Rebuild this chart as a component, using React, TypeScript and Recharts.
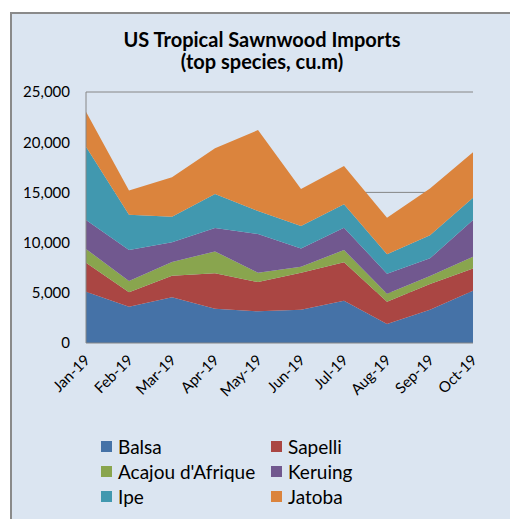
import React from 'react'
import {
  AreaChart,
  Area,
  CartesianGrid,
  XAxis,
  YAxis,
} from 'recharts'

const months = ['Jan-19', 'Feb-19', 'Mar-19', 'Apr-19', 'May-19', 'Jun-19', 'Jul-19', 'Aug-19', 'Sep-19', 'Oct-19']

// monthly volumes per species, cu.m
const balsa   = [5100, 3600, 4550, 3400, 3150, 3300, 4200, 1900, 3300, 5200]
const sapelli = [2900, 1450, 2150, 3550, 2920, 3700, 3850, 2200, 2580, 2230]
const acajou  = [1360, 1130, 1370, 2170, 930, 600, 1210, 800, 790, 1170]
const keruing = [2890, 3080, 1960, 2330, 3860, 1800, 2230, 2000, 1760, 3650]
const ipe     = [7300, 3520, 2550, 3390, 2290, 2250, 2320, 1950, 2290, 2220]
const jatoba  = [3490, 2420, 3920, 4550, 8060, 3690, 3820, 3630, 4680, 4520]

const yTicks = [0, 5000, 10000, 15000, 20000, 25000]
const gridValues = [5000, 15000, 25000]

const series = [
  { key: 'Balsa',            values: balsa,   color: '#4572A7' },
  { key: 'Sapelli',          values: sapelli, color: '#AA4643' },
  { key: "Acajou d'Afrique", values: acajou,  color: '#89A54E' },
  { key: 'Keruing',          values: keruing, color: '#71588F' },
  { key: 'Ipe',              values: ipe,     color: '#4198AF' },
  { key: 'Jatoba',           values: jatoba,  color: '#DB843D' },
]

const data = months.map((month, i) => {
  const row: Record<string, string | number> = { month }
  series.forEach(s => { row[s.key] = s.values[i] })
  return row
})

const FONT = 'Lato, "Open Sans", sans-serif'

const tickStyle = { fill: '#000', fontSize: 15, fontFamily: FONT }

function XTick({ x, y, payload }: any) {
  return (
    <text
      x={x + 5}
      y={y + 10}
      transform={`rotate(-45 ${x + 5} ${y + 10})`}
      textAnchor="end"
      style={tickStyle}
    >
      {payload.value}
    </text>
  )
}

// two-column legend under the plot, filled row by row
function LegendBox() {
  return (
    <div style={{
      position: 'absolute',
      left: 101,
      top: 434,
      display: 'grid',
      gridTemplateColumns: '170px 170px',
      fontFamily: FONT,
      fontSize: 19,
      color: '#000',
    }}>
      {series.map(s => (
        <div key={s.key} style={{ display: 'flex', alignItems: 'center', height: 25 }}>
          <span style={{ width: 11, height: 11, background: s.color, marginRight: 6, display: 'inline-block' }} />
          <span>{s.key}</span>
        </div>
      ))}
    </div>
  )
}

export default function App() {
  return (
    <div style={{ position: 'absolute', left: 0, top: 0, width: 510, height: 519, background: '#fff', overflow: 'hidden' }}>
      <div style={{
        position: 'absolute',
        left: 10,
        top: 12,
        width: 510,
        height: 520,
        background: '#DBE5F1',
        borderLeft: '2px solid #8a8a8a',
        borderTop: '2px solid #8a8a8a',
      }} />
      <div style={{
        position: 'absolute',
        left: 0,
        width: 524,
        top: 28,
        textAlign: 'center',
        fontFamily: FONT,
        fontWeight: 700,
        fontSize: 20,
        lineHeight: '22px',
        color: '#000',
      }}>
        US Tropical Sawnwood Imports<br />(top species, cu.m)
      </div>
      <div style={{ position: 'absolute', left: 0, top: 0 }}>
        <AreaChart
          width={510}
          height={519}
          data={data}
          margin={{ top: 92, right: 37, bottom: 146, left: 16 }}
        >
          <CartesianGrid
            horizontal
            vertical={false}
            horizontalValues={gridValues}
            stroke="#868686"
            strokeWidth={1}
          />
          <XAxis
            dataKey="month"
            axisLine={{ stroke: '#868686' }}
            tickLine={false}
            tick={<XTick />}
            interval={0}
            height={30}
          />
          <YAxis
            domain={[0, 25000]}
            ticks={yTicks}
            axisLine={{ stroke: '#868686' }}
            tickLine={false}
            tick={tickStyle}
            tickFormatter={(v: number) => v.toLocaleString('en-US')}
            width={70}
            tickMargin={10}
          />
          {series.map(s => (
            <Area
              key={s.key}
              dataKey={s.key}
              stackId="species"
              type="linear"
              fill={s.color}
              fillOpacity={1}
              stroke="none"
              isAnimationActive={false}
            />
          ))}
        </AreaChart>
      </div>
      <LegendBox />
    </div>
  )
}
